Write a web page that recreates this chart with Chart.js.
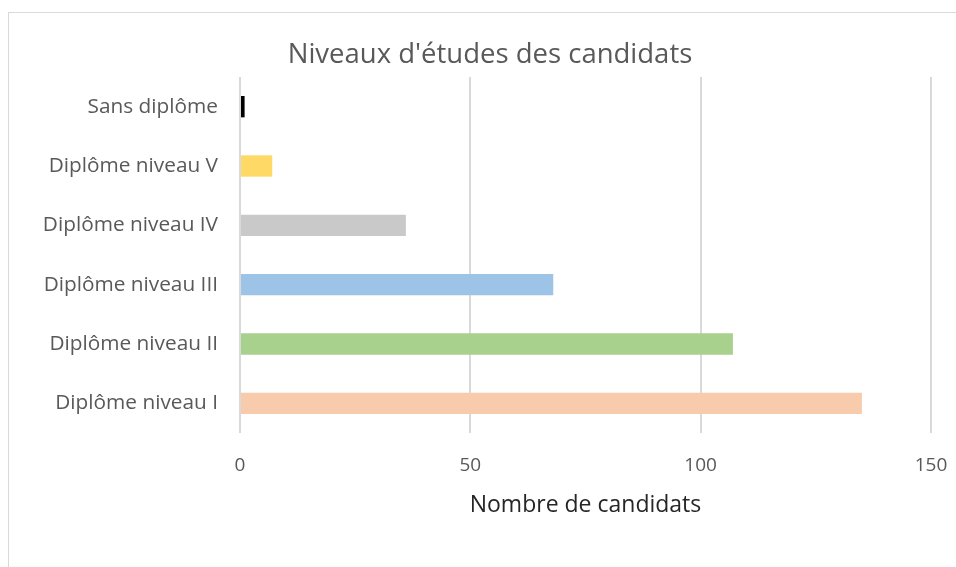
<!DOCTYPE html>
<html>
<head>
<meta charset="utf-8">
<script src="https://cdn.jsdelivr.net/npm/chart.js@4/dist/chart.umd.min.js"></script>
<style>
  html, body { margin: 0; padding: 0; background: #fff; }
  #wrap { position: relative; width: 956px; height: 567px; overflow: hidden; }
  #frame { position: absolute; left: 8px; top: 12px; width: 960px; height: 600px;
           border-left: 1.5px solid #d9d9d9; border-top: 1.5px solid #d9d9d9; box-sizing: border-box; }
  canvas { position: absolute; left: 0; top: 0; }
</style>
</head>
<body>
<div id="wrap">
  <div id="frame"></div>
  <canvas id="c" width="956" height="567"></canvas>
</div>
<script>
const categories = ["Sans diplôme", "Diplôme niveau V", "Diplôme niveau IV", "Diplôme niveau III", "Diplôme niveau II", "Diplôme niveau I"];
const values = [1, 7, 36, 68, 107, 135];
const barColors = ["#000000", "#FFD966", "#C9C9C9", "#9DC3E6", "#A9D18E", "#F8CBAD"];
const xTicks = [0, 50, 100, 150];
const chartTitle = "Niveaux d'études des candidats";
const xTitle = "Nombre de candidats";

const FONT = "'Open Sans', 'Noto Sans', sans-serif";

const titleShift = {
  id: 'titleShift',
  afterLayout(chart) {
    const t = chart.titleBlock;
    if (t) { t.left = 26; t.right = 954; t.width = 928; }
  }
};

new Chart(document.getElementById('c'), {
  type: 'bar',
  data: {
    labels: categories,
    datasets: [{
      data: values,
      backgroundColor: barColors,
      borderWidth: 0,
      barPercentage: 0.36,
      categoryPercentage: 1.0
    }]
  },
  options: {
    indexAxis: 'y',
    responsive: false,
    animation: false,
    devicePixelRatio: 1,
    layout: { padding: { left: 2, right: 25, top: 0, bottom: 48 } },
    plugins: {
      legend: { display: false },
      tooltip: { enabled: false },
      title: {
        display: true,
        text: chartTitle,
        color: '#595959',
        font: { family: FONT, size: 27.5, weight: 'normal' },
        padding: { top: 39, bottom: 5 }
      }
    },
    scales: {
      x: {
        min: 0, max: 150,
        afterBuildTicks: (s) => { s.ticks = xTicks.map(v => ({ value: v })); },
        afterFit: (s) => { s.height = 86; s.paddingLeft = 0; s.paddingRight = 0; },
        grid: { color: '#d9d9d9', lineWidth: 2, drawTicks: false },
        border: { display: false },
        ticks: { color: '#595959', font: { family: FONT, size: 19 }, padding: 21 },
        title: {
          display: true, text: xTitle, color: '#262626',
          font: { family: FONT, size: 23 }, padding: { top: 8, bottom: 0 }
        }
      },
      y: {
        afterFit: (s) => { s.width = 238; },
        grid: { display: false },
        border: { display: false },
        ticks: { color: '#595959', font: { family: FONT, size: 20.8 }, padding: 14 }
      }
    }
  },
  plugins: [titleShift]
});
</script>
</body>
</html>
